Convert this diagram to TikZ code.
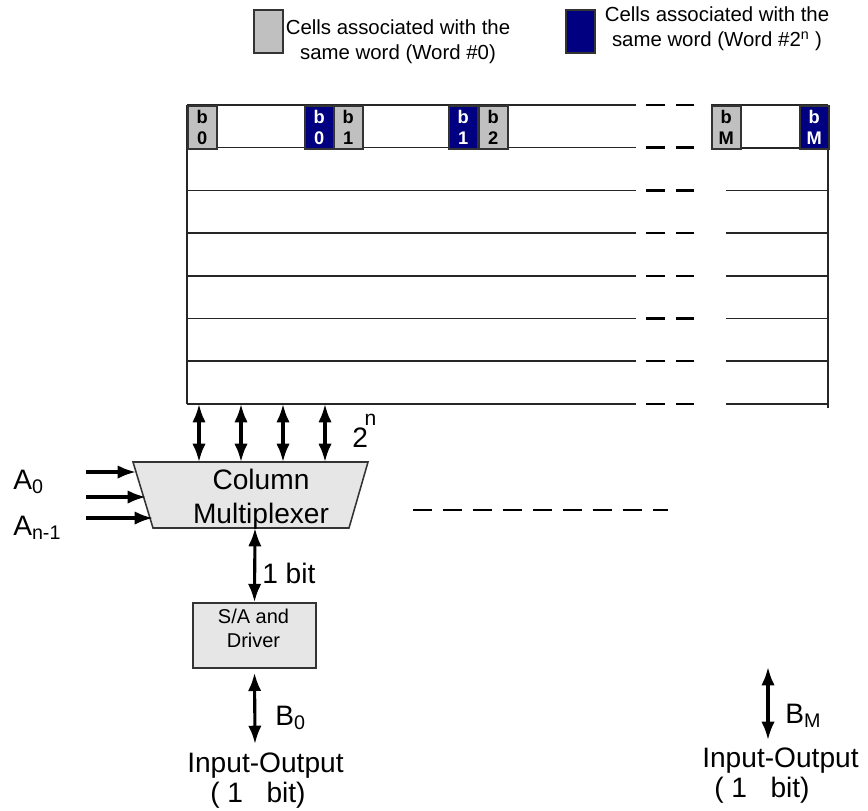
\documentclass[tikz,border=0pt]{standalone}
\usepackage{fontspec}
\setmainfont{Liberation Sans}
\newfontfamily\cellfont{Liberation Sans}[UprightFont={* Bold}]
\usetikzlibrary{arrows.meta}
\definecolor{cellgray}{RGB}{192,192,192}
\definecolor{cellblue}{RGB}{0,0,128}
\definecolor{boxgray}{RGB}{230,230,230}
\begin{document}
\begin{tikzpicture}[x=0.025cm,y=-0.025cm,
    font=\fontsize{20}{24}\selectfont,
    grid/.style={line width=1.1pt,draw=black!85},
    gap/.style={line width=1.8pt,dash pattern=on 13.5pt off 7.8pt},
    cell/.style={draw=black!80,line width=1.1pt,minimum width=0.725cm,minimum height=1.075cm,
      inner sep=0pt,align=center,anchor=north west,font=\cellfont\fontsize{13}{14.5}\selectfont},
    wcell/.style={cell,fill=cellgray},
    bcell/.style={cell,fill=cellblue,text=white},
    bus/.style={{Latex[length=13pt,width=9.5pt]}-{Latex[length=13pt,width=9.5pt]},line width=2.2pt},
    wire/.style={-{Latex[length=13pt,width=9.5pt]},line width=2.2pt},
    graybox/.style={draw=black!80,line width=1.1pt,fill=boxgray},
    lbl/.style={inner sep=0pt,anchor=base west}]
  \useasboundingbox (0,0) rectangle (868,810);
  % key
  \node[wcell] (keyw) at (253,9) {};
  \node[font=\fontsize{14.5}{17.5}\selectfont,align=center] (keywtext) at (398,42)
    {Cells associated with the\\same word (Word \#0)};
  \node[bcell] (keyb) at (565,9) {};
  \node[font=\fontsize{14.5}{17.5}\selectfont,align=center] (keybtext) at (717,29)
    {Cells associated with the\\same word (Word \#2\textsuperscript{n}~)};
  % word lines of the array
  \foreach \r in {0,...,7} {
    \draw[grid] (187,{105+42.7*\r}) -- (636,{105+42.7*\r});
    \draw[gap] (646,{105+42.7*\r}) -- (694,{105+42.7*\r});
  }
  \draw[grid] (187,105) -- (187,404);
  \draw[grid] (711,105) -- (828,105);
  \draw[grid] (711,148) -- (828,148);
  \foreach \r in {2,...,7}
    \draw[grid] (726,{105+42.7*\r}) -- (828,{105+42.7*\r});
  \draw[grid] (828,105) -- (828,408);
  % cells of the first row
  \node[wcell] (w0) at (187,105) {b\\0};
  \node[bcell] (c0) at (304,105) {b\\0};
  \node[wcell] (w1) at (333,105) {b\\1};
  \node[bcell] (c1) at (448,105) {b\\1};
  \node[wcell] (w2) at (478,105) {b\\2};
  \node[wcell] (wm) at (711,105) {b\\M};
  \node[bcell] (cm) at (799,105) {b\\M};
  % column multiplexer
  \coordinate (mtl) at (133,462);
  \coordinate (mtr) at (368,462);
  \coordinate (mbr) at (349,528);
  \coordinate (mbl) at (153,528);
  \draw[graybox] (mtl) -- (mtr) -- (mbr) -- (mbl) -- cycle;
  \node[align=center] (mux) at (261,499) {Column\\Multiplexer};
  \foreach \x [count=\i] in {199,241,283,325} {
    \coordinate (col\i) at (\x,404);
    \coordinate (sel\i) at (\x,462);
    \draw[bus] (col\i) -- (sel\i);
  }
  \node[lbl] (ncols) at (352,447) {2\kern-0.12em\raisebox{0.75em}{\fontsize{15}{15}\selectfont n}};
  % address inputs
  \coordinate (a0) at (86,472);  \coordinate (a0e) at (136,472);
  \coordinate (a1) at (86,497);  \coordinate (a1e) at (146,497);
  \coordinate (a2) at (86,518);  \coordinate (a2e) at (153,518);
  \draw[wire] (a0) -- (a0e);
  \draw[wire] (a1) -- (a1e);
  \draw[wire] (a2) -- (a2e);
  \node[lbl] (alo) at (13,489) {A\textsubscript{0}};
  \node[lbl] (ahi) at (13,535) {A\textsubscript{n-1}};
  % sense amplifier
  \node[graybox,minimum width=3.075cm,minimum height=1.625cm] (sa) at (254.5,635.5) {};
  \node[align=center,font=\fontsize{14.2}{17}\selectfont] (satext) at (253.5,628) {S/A and\\Driver};
  \coordinate (muxout) at (255,528);
  \draw[bus] (muxout) -- (sa.north);
  \node[lbl] (onebit) at (262,583) {1 bit};
  % outputs
  \coordinate (out0) at (255,744);
  \draw[bus,shorten <=2.8pt] (sa.south) -- (out0);
  \node[lbl] (bout) at (275,725) {B\textsubscript{0}};
  \node[lbl] (io0) at (187,772) {Input-Output};
  \node[lbl] (io0b) at (210,802) {( 1~~~bit)};
  \coordinate (inm) at (768,667);
  \coordinate (outm) at (768,740);
  \draw[bus] (inm) -- (outm);
  \node[lbl] (boutm) at (785,723) {B\textsubscript{M}};
  \node[lbl] (iom) at (702,767) {Input-Output};
  \node[lbl] (iomb) at (714,797) {( 1~~~bit)};
  \draw[gap] (413,510) -- (668,510);
\end{tikzpicture}
\end{document}
